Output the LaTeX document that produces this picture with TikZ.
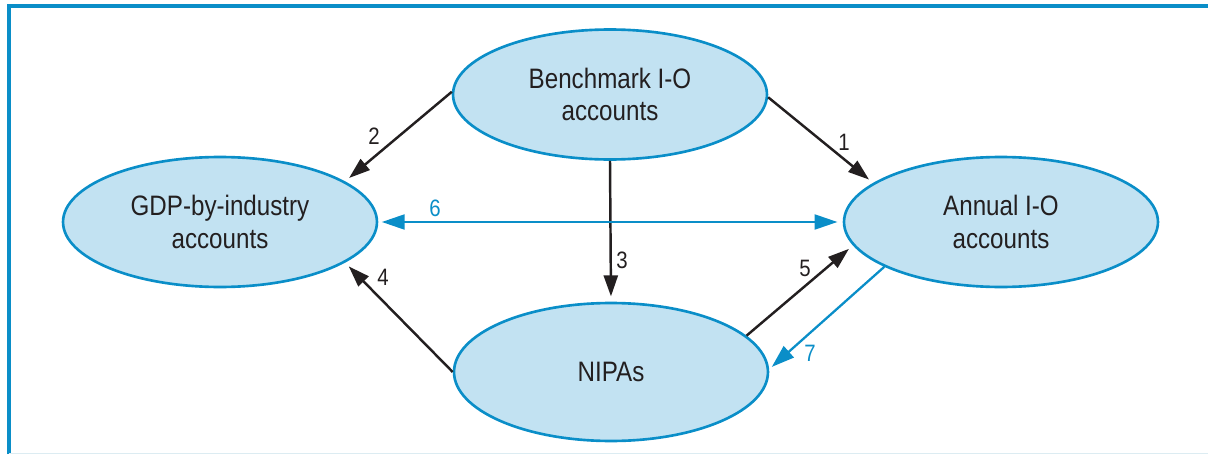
\documentclass[tikz,border=0pt]{standalone}
\usepackage{fontspec}
\setmainfont{Liberation Sans}[FakeStretch=0.86]
\usetikzlibrary{shapes.geometric,arrows.meta}

\definecolor{boxblue}{RGB}{194,226,242}
\definecolor{lineblue}{RGB}{10,142,200}
\definecolor{inkblack}{RGB}{35,31,32}
\definecolor{paleblue}{RGB}{220,236,242}

\tikzset{
  account/.style={ellipse, draw=lineblue, fill=boxblue, line width=1.5pt,
    inner sep=0pt, minimum width=6.28cm, minimum height=2.6cm, align=center,
    text=inkblack, font=\fontsize{16}{18.7}\selectfont},
  flow/.style={draw=inkblack, line width=1.4pt,
    -{Triangle[length=12pt,width=8pt]}, shorten >=3pt},
  revise/.style={draw=lineblue, line width=1.3pt,
    -{Triangle[length=13pt,width=8.5pt]}, shorten >=2pt},
  twoway/.style={revise, {Triangle[length=13pt,width=8.5pt]}-{Triangle[length=13pt,width=8.5pt]},
    shorten <=2pt, shorten >=3pt},
  num/.style={text=inkblack, font=\fontsize{13.5}{15}\selectfont, inner sep=0pt}
}

\begin{document}
\begin{tikzpicture}[x=0.02cm,y=0.02cm]
    \useasboundingbox (0,0) rectangle (1208,454);

    % frame
    \draw [lineblue, line width=2.2pt] (9,0) -- (9,448) -- (1208,448);
    \draw [paleblue, line width=0.6pt] (9,0.6) -- (1208,0.6);

    % accounts
    \node [account] (bench) at (610,359.5) {Benchmark I-O\\accounts};
    \node [account] (gdp) at (220,232) {GDP-by-industry\\accounts};
    \node [account] (annual) at (1001,232) {Annual I-O\\accounts};
    \node [account, minimum height=2.76cm] (nipas) at (611,82) {NIPAs};

    % flows
    \draw [flow] (bench.-1) -- (annual.163);
    \draw [flow] (bench.179) -- (gdp.18);
    \draw [flow] (bench.south) -- (nipas.north);
    \draw [flow] (nipas.west) -- (gdp.-18);
    \draw [flow] (nipas.15) -- (annual.189);
    \draw [twoway] (gdp.east) -- (annual.west);
    \draw [revise] (annual.201) -- (nipas.1);

    % numbers
    \node [num] (n1) at (844,312) {1};
    \node [num] (n2) at (374,318) {2};
    \node [num] (n3) at (622,194) {3};
    \node [num] (n4) at (383,177) {4};
    \node [num] (n5) at (805,186) {5};
    \node [num, text=lineblue] (n6) at (435,246) {6};
    \node [num, text=lineblue] (n7) at (810,101) {7};
\end{tikzpicture}
\end{document}
